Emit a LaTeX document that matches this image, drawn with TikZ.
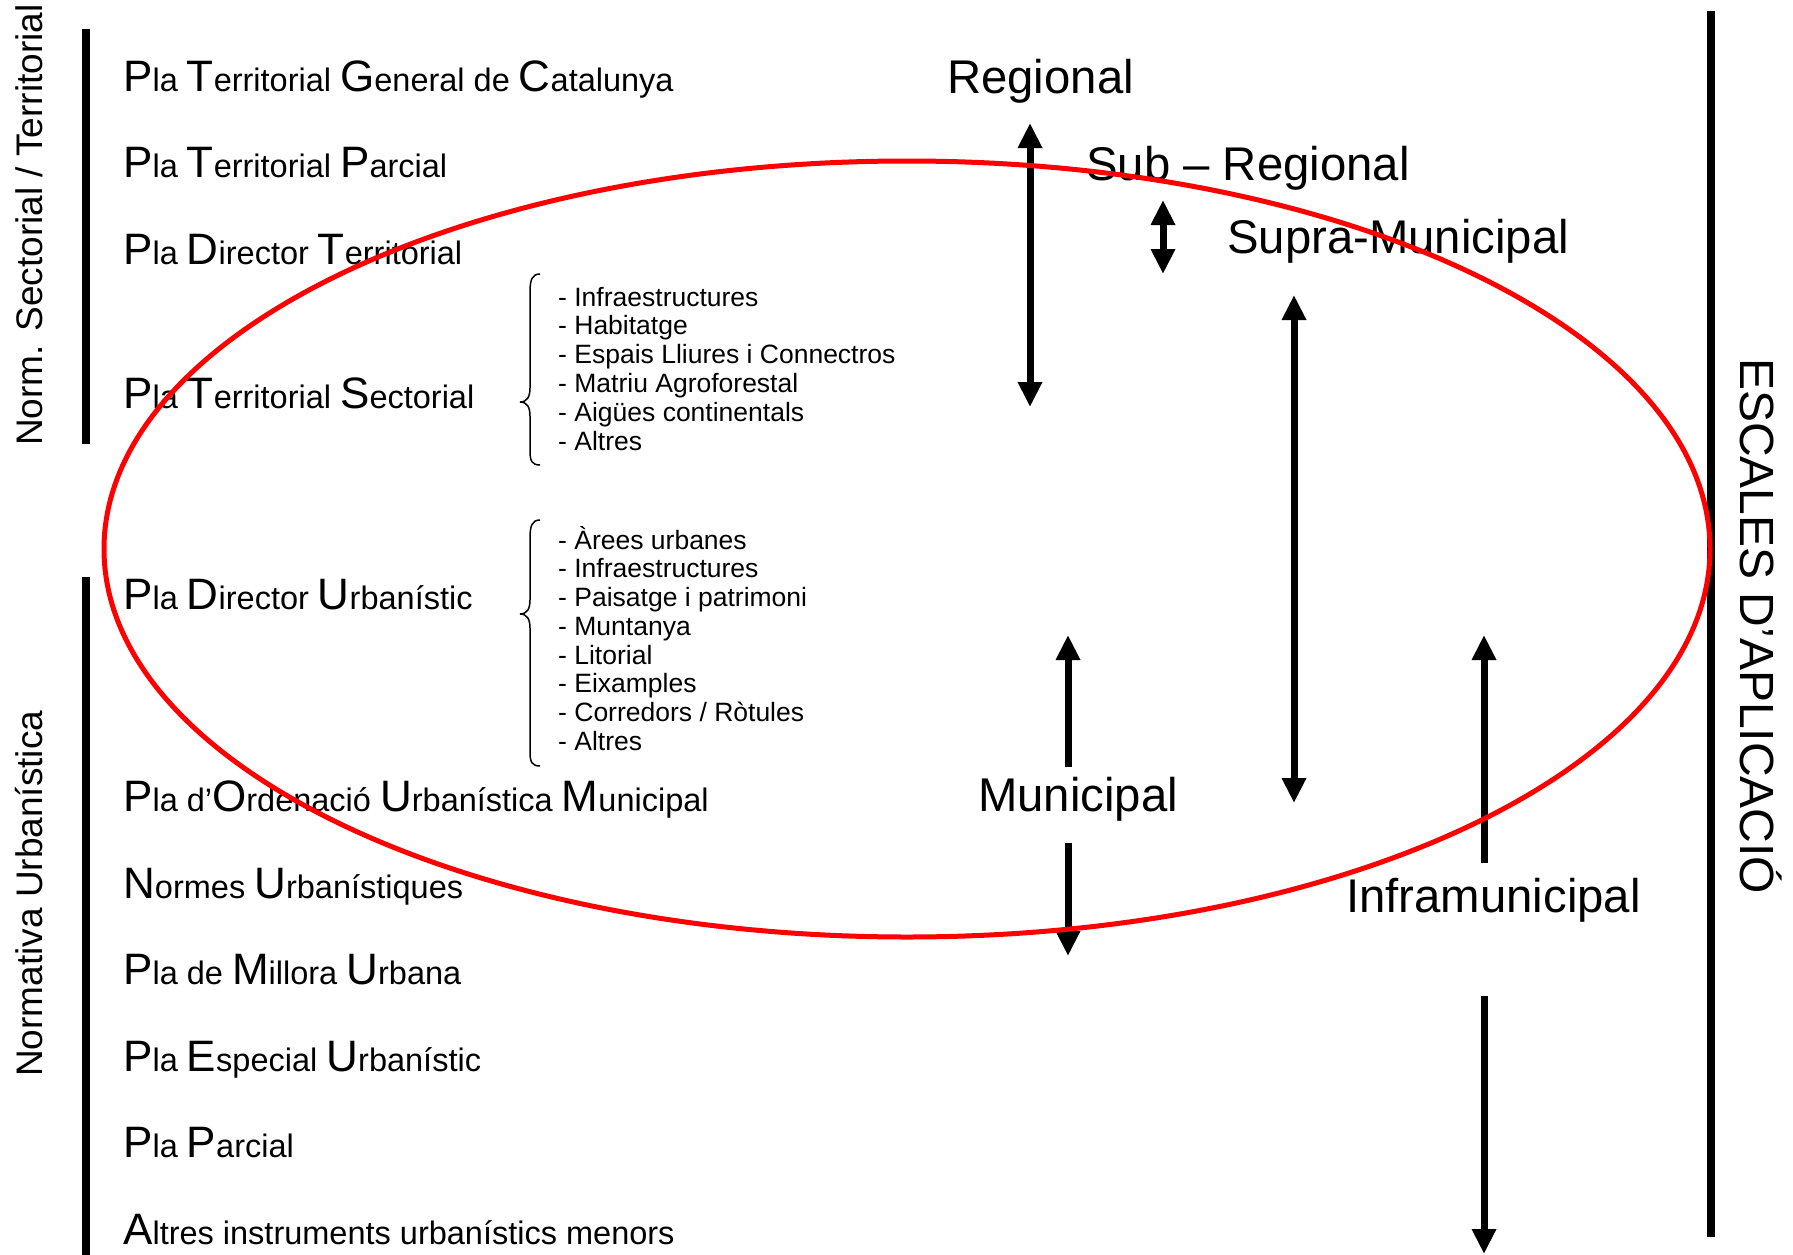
\documentclass[tikz,border=0pt]{standalone}
\usepackage{fontspec}
\setmainfont{Liberation Sans}
\usetikzlibrary{arrows.meta}
\newcommand\bigini[1]{{\fontsize{44}{50}\selectfont #1}}
\begin{document}
\begin{tikzpicture}[x=1pt,y=-1pt,
  plan/.style={anchor=base west, inner sep=0pt, font=\fontsize{32.5}{38}\selectfont},
  side/.style={anchor=base west, inner sep=0pt, font=\fontsize{37}{44}\selectfont},
  scalelbl/.style={anchor=base west, inner sep=0pt, font=\fontsize{47.3}{56}\selectfont},
  listitem/.style={anchor=base west, inner sep=0pt, font=\fontsize{26.5}{30}\selectfont},
  bar/.style={line width=8pt},
  arr/.style={line width=7pt, -{Triangle[width=23pt,length=25pt]}},
  darr/.style={line width=7pt, {Triangle[width=23pt,length=25pt]}-{Triangle[width=23pt,length=25pt]}},
  bracepath/.style={line width=1.5pt},
  oval/.style={draw=red, line width=5pt}]
\useasboundingbox (0,0) rectangle (1793,1255);

% side bars
\coordinate (b1t) at (86,29);   \coordinate (b1b) at (86,444);
\coordinate (b2t) at (86,577);  \coordinate (b2b) at (86,1255);
\coordinate (b3t) at (1711,11); \coordinate (b3b) at (1711,1237);
\draw[bar] (b1t) -- (b1b);
\draw[bar] (b2t) -- (b2b);
\draw[bar] (b3t) -- (b3b);

% side labels
\node[side, rotate=90] (sect) at (42,446) {Norm. Sectorial / Territorial};
\node[side, rotate=90] (urb) at (42,1077) {Normativa Urbanística};
\node[anchor=base west, inner sep=0pt, font=\fontsize{48}{56}\selectfont, rotate=-90] (esc) at (1740,358) {ESCALES D’APLICACIÓ};

% plans
\node[plan] (p1) at (123,91.5) {\bigini{P}la \bigini{T}erritorial \bigini{G}eneral de \bigini{C}atalunya};
\node[plan] (p2) at (123,177.5) {\bigini{P}la \bigini{T}erritorial \bigini{P}arcial};
\node[plan] (p3) at (123,264) {\bigini{P}la \bigini{D}irector \bigini{T}erritorial};
\node[plan] (p4) at (123,408) {\bigini{P}la \bigini{T}erritorial \bigini{S}ectorial};
\node[plan] (p5) at (123,609) {\bigini{P}la \bigini{D}irector \bigini{U}rbanístic};
\node[plan] (p6) at (123,811.5) {\bigini{P}la d’\bigini{O}rdenació \bigini{U}rbanística \bigini{M}unicipal};
\node[plan] (p7) at (123,898) {\bigini{N}ormes \bigini{U}rbanístiques};
\node[plan] (p8) at (123,984.5) {\bigini{P}la de \bigini{M}illora \bigini{U}rbana};
\node[plan] (p9) at (123,1071) {\bigini{P}la \bigini{E}special \bigini{U}rbanístic};
\node[plan] (p10) at (123,1157.5) {\bigini{P}la \bigini{P}arcial};
\node[plan] (p11) at (123,1244) {\bigini{A}ltres instruments urbanístics menors};

% lists
\foreach \t [count=\i] in {- Infraestructures, - Habitatge, - Espais Lliures i Connectros, - Matriu Agroforestal, - Aigües continentals, - Altres}
  \node[listitem] (la\i) at (558,{306+(\i-1)*28.8}) {\t};
\foreach \t [count=\i] in {- Àrees urbanes, - Infraestructures, - Paisatge i patrimoni, - Muntanya, - Litorial, - Eixamples, - Corredors / Ròtules, - Altres}
  \node[listitem] (lb\i) at (558,{549+(\i-1)*28.75}) {\t};

% braces
\draw[bracepath] (540,274) .. controls (532,274) and (530,280) .. (530,292) -- (530,388)
  .. controls (530,397) and (527,402) .. (520,402) .. controls (527,402) and (530,407) .. (530,416)
  -- (530,451) .. controls (530,461) and (532,465) .. (540,465);
\draw[bracepath] (540,520) .. controls (532,520) and (530,526) .. (530,538) -- (530,600)
  .. controls (530,609) and (527,614) .. (520,614) .. controls (527,614) and (530,619) .. (530,628)
  -- (530,752) .. controls (530,762) and (532,766) .. (540,766);

% scale labels
\node[scalelbl] (reg) at (947,93) {Regional};
\node[scalelbl] (sub) at (1086,180) {Sub – Regional};
\node[scalelbl] (supra) at (1227,253) {Supra-Municipal};
\node[scalelbl] (mun) at (978,811) {Municipal};
\node[scalelbl] (infra) at (1346,912) {Inframunicipal};

% arrows
\coordinate (aRt) at (1030,123);  \coordinate (aRb) at (1030,407);
\coordinate (aSt) at (1163,200);  \coordinate (aSb) at (1163,274);
\coordinate (aPt) at (1294,295);  \coordinate (aPb) at (1294,803);
\coordinate (aMu0) at (1068,767); \coordinate (aMu1) at (1068,635);
\coordinate (aMd0) at (1068,843); \coordinate (aMd1) at (1068,956);
\coordinate (aIu0) at (1484,863); \coordinate (aIu1) at (1484,635);
\coordinate (aId0) at (1484,996); \coordinate (aId1) at (1484,1254);
\draw[darr] (aRt) -- (aRb);
\draw[darr] (aSt) -- (aSb);
\draw[darr] (aPt) -- (aPb);
\draw[arr] (aMu0) -- (aMu1);
\draw[arr] (aMd0) -- (aMd1);
\draw[arr] (aIu0) -- (aIu1);
\draw[arr] (aId0) -- (aId1);

% red oval
\draw[oval] (907,549) ellipse [x radius=803pt, y radius=388pt];
\end{tikzpicture}
\end{document}
